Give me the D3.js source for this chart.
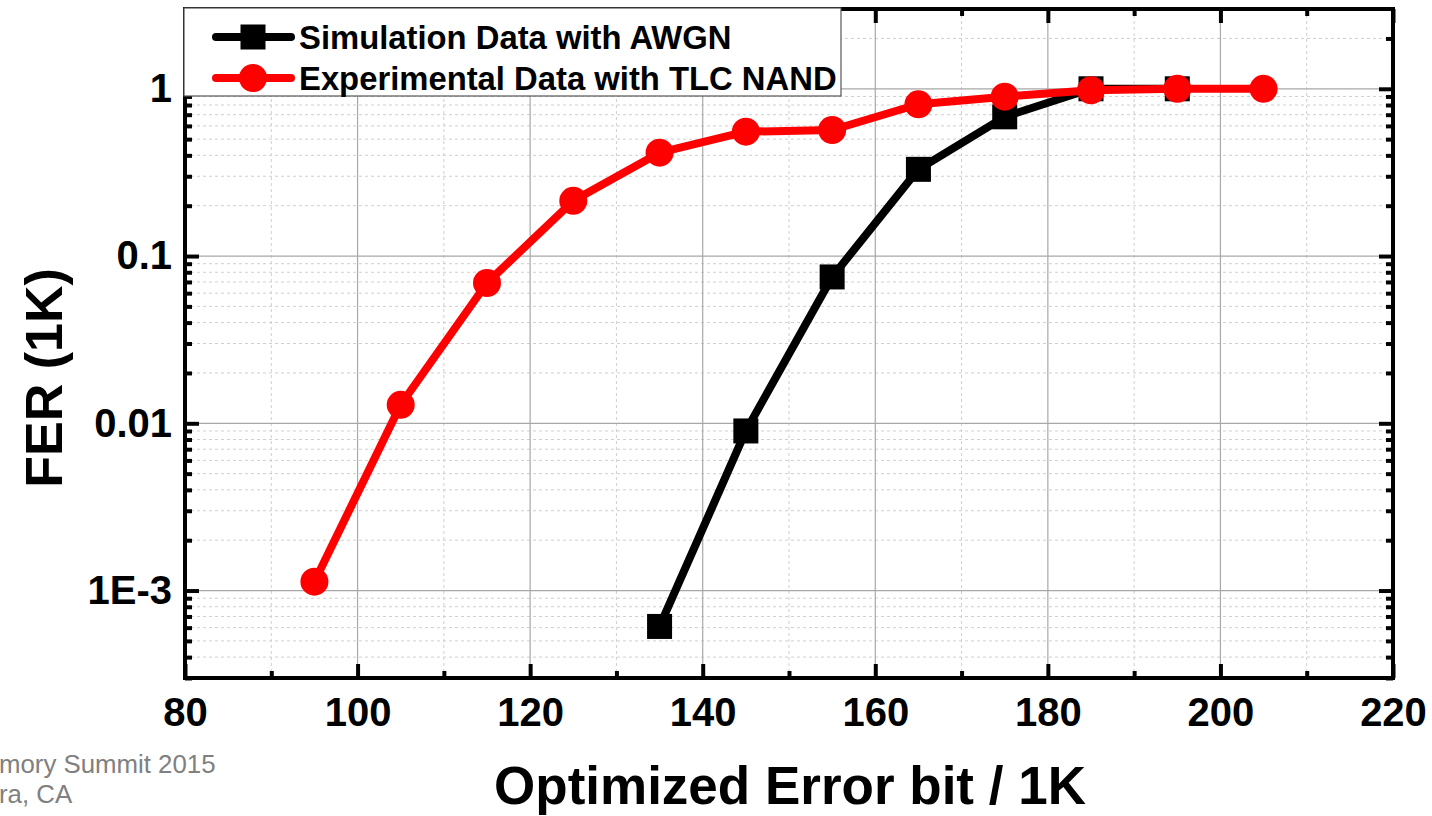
<!DOCTYPE html>
<html>
<head>
<meta charset="utf-8">
<script src="https://cdn.jsdelivr.net/npm/d3@7"></script>
<style>
  html, body { margin: 0; padding: 0; background: #fff; }
  svg { display: block; }
  text { font-family: "Liberation Sans", Arial, Helvetica, sans-serif; }
</style>
</head>
<body>
<svg id="chart" width="1432" height="816"></svg>
<script>
// ---- data ----
const seriesNames = ["Simulation Data with AWGN", "Experimental Data with TLC NAND"];
const simX = [135, 145, 155, 165, 175, 185, 195];
const simFER = [0.00061, 0.0090, 0.075, 0.33, 0.68, 1.0, 1.0];
const expX = [95, 105, 115, 125, 135, 145, 155, 165, 175, 185, 195, 205];
const expFER = [0.00113, 0.0129, 0.069, 0.214, 0.415, 0.554, 0.567, 0.808, 0.897, 0.98, 1.0, 1.0];
const xTicks = [80, 100, 120, 140, 160, 180, 200, 220];
const xMinorTicks = [90, 110, 130, 150, 170, 190, 210];
const yTicks = [1e-3, 1e-2, 1e-1, 1];
const yTickLabels = ["1E-3", "0.01", "0.1", "1"];
const xTitle = "Optimized Error bit / 1K";
const yTitle = "FER (1K)";
const footer = ["mory Summit 2015", "ra, CA"];

// ---- layout ----
const L = 185, R = 1393, T = 9, B = 678;
const svg = d3.select("#chart");
svg.append("rect").attr("width", 1432).attr("height", 816).attr("fill", "#fff");

const x = d3.scaleLinear().domain([80, 220]).range([L, R]);
const y = d3.scaleLog().domain([3e-4, 3]).range([B, T]);

// minor y values
const yMinor = [];
[1e-4, 1e-3, 1e-2, 1e-1, 1].forEach(d => {
  for (let k = 2; k <= 9; k++) {
    const v = d * k;
    if (v > 3e-4 && v < 3) yMinor.push(v);
  }
});

// ---- grid ----
const grid = svg.append("g");
grid.selectAll(".gxm").data(xMinorTicks).join("line")
  .attr("x1", d => x(d)).attr("x2", d => x(d)).attr("y1", T).attr("y2", B)
  .attr("stroke", "#cfcfcf").attr("stroke-width", 1).attr("stroke-dasharray", "3,3");
grid.selectAll(".gym").data(yMinor).join("line")
  .attr("x1", L).attr("x2", R).attr("y1", d => y(d)).attr("y2", d => y(d))
  .attr("stroke", "#cfcfcf").attr("stroke-width", 1).attr("stroke-dasharray", "3,3");
grid.selectAll(".gx").data(xTicks.slice(1, -1)).join("line")
  .attr("x1", d => x(d)).attr("x2", d => x(d)).attr("y1", T).attr("y2", B)
  .attr("stroke", "#a8a8a8").attr("stroke-width", 1.2);
grid.selectAll(".gy").data(yTicks).join("line")
  .attr("x1", L).attr("x2", R).attr("y1", d => y(d)).attr("y2", d => y(d))
  .attr("stroke", "#a8a8a8").attr("stroke-width", 1.2);

// ---- axes ----
function styleAxis(g) {
  g.select(".domain").remove();
  g.selectAll(".tick line").attr("stroke", "#000").attr("stroke-width", 4);
  g.selectAll("text").attr("fill", "#000").attr("font-size", 40).attr("font-weight", "bold");
}
const axB = svg.append("g").attr("transform", `translate(0,${B})`)
  .call(d3.axisBottom(x).tickValues(xTicks).tickFormat(d3.format("d")).tickSizeInner(-14).tickSizeOuter(0).tickPadding(20));
styleAxis(axB);
const axBm = svg.append("g").attr("transform", `translate(0,${B})`)
  .call(d3.axisBottom(x).tickValues(xMinorTicks).tickFormat("").tickSizeInner(-7).tickSizeOuter(0));
styleAxis(axBm);
const axT = svg.append("g").attr("transform", `translate(0,${T})`)
  .call(d3.axisTop(x).tickValues(xTicks).tickFormat("").tickSizeInner(-14).tickSizeOuter(0));
styleAxis(axT);
const axTm = svg.append("g").attr("transform", `translate(0,${T})`)
  .call(d3.axisTop(x).tickValues(xMinorTicks).tickFormat("").tickSizeInner(-7).tickSizeOuter(0));
styleAxis(axTm);

const axL = svg.append("g").attr("transform", `translate(${L},0)`)
  .call(d3.axisLeft(y).tickValues(yTicks).tickFormat((d, i) => yTickLabels[i]).tickSizeInner(-14).tickSizeOuter(0).tickPadding(13));
styleAxis(axL);
const axLm = svg.append("g").attr("transform", `translate(${L},0)`)
  .call(d3.axisLeft(y).tickValues(yMinor).tickFormat("").tickSizeInner(-7).tickSizeOuter(0));
styleAxis(axLm);
const axR = svg.append("g").attr("transform", `translate(${R},0)`)
  .call(d3.axisRight(y).tickValues(yTicks).tickFormat("").tickSizeInner(-14).tickSizeOuter(0));
styleAxis(axR);
const axRm = svg.append("g").attr("transform", `translate(${R},0)`)
  .call(d3.axisRight(y).tickValues(yMinor).tickFormat("").tickSizeInner(-7).tickSizeOuter(0));
styleAxis(axRm);

// frame
svg.append("rect").attr("x", L).attr("y", T).attr("width", R - L).attr("height", B - T)
  .attr("fill", "none").attr("stroke", "#000").attr("stroke-width", 4);

// ---- series ----
const simData = simX.map((v, i) => ({ x: v, y: simFER[i] }));
const expData = expX.map((v, i) => ({ x: v, y: expFER[i] }));
const line = d3.line().x(d => x(d.x)).y(d => y(d.y));

svg.append("path").datum(simData).attr("d", line)
  .attr("fill", "none").attr("stroke", "#000").attr("stroke-width", 8).attr("stroke-linejoin", "round");
svg.selectAll(".sq").data(simData).join("rect")
  .attr("x", d => x(d.x) - 12.5).attr("y", d => y(d.y) - 12.5)
  .attr("width", 25).attr("height", 25).attr("fill", "#000");

svg.append("path").datum(expData).attr("d", line)
  .attr("fill", "none").attr("stroke", "#ff0000").attr("stroke-width", 8).attr("stroke-linejoin", "round");
svg.selectAll(".ci").data(expData).join("circle")
  .attr("cx", d => x(d.x)).attr("cy", d => y(d.y)).attr("r", 14).attr("fill", "#ff0000");

// ---- legend ----
const lg = svg.append("g");
lg.append("rect").attr("x", 184).attr("y", 8).attr("width", 657).attr("height", 88)
  .attr("fill", "#fff").attr("stroke", "#555").attr("stroke-width", 1.2);
const legendRows = [
  { name: seriesNames[0], color: "#000", shape: "square", cy: 37 },
  { name: seriesNames[1], color: "#ff0000", shape: "circle", cy: 78 }
];
legendRows.forEach(r => {
  lg.append("line").attr("x1", 216).attr("x2", 291).attr("y1", r.cy).attr("y2", r.cy)
    .attr("stroke", r.color).attr("stroke-width", 8).attr("stroke-linecap", "round");
  if (r.shape === "square") {
    lg.append("rect").attr("x", 253 - 12.5).attr("y", r.cy - 12.5).attr("width", 25).attr("height", 25).attr("fill", r.color);
  } else {
    lg.append("circle").attr("cx", 253).attr("cy", r.cy).attr("r", 14).attr("fill", r.color);
  }
  lg.append("text").attr("x", 299).attr("y", r.cy + 12).text(r.name)
    .attr("font-size", 32.8).attr("font-weight", "bold").attr("fill", "#000");
});

// ---- titles ----
svg.append("text").attr("x", 790).attr("y", 804).attr("text-anchor", "middle")
  .attr("font-size", 53).attr("font-weight", "bold").attr("fill", "#000").text(xTitle);
svg.append("text").attr("transform", "translate(62,378) rotate(-90)").attr("text-anchor", "middle")
  .attr("font-size", 52).attr("font-weight", "bold").attr("fill", "#000").text(yTitle);

// footer
svg.append("text").attr("x", -1).attr("y", 773).attr("font-size", 25.8).attr("fill", "#808080").text(footer[0]);
svg.append("text").attr("x", -1).attr("y", 803).attr("font-size", 25.8).attr("fill", "#808080").text(footer[1]);
</script>
</body>
</html>
